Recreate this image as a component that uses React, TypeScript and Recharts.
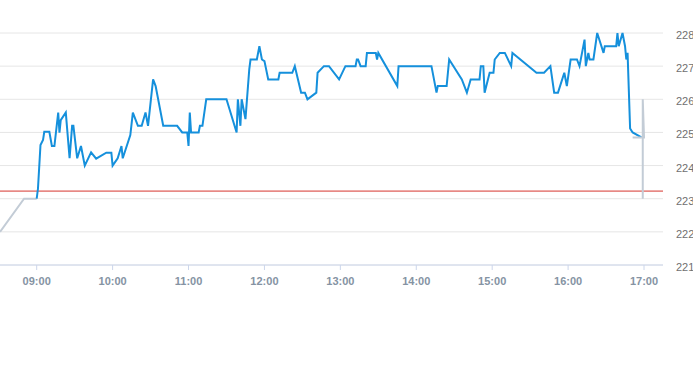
import { LineChart, Line, XAxis, YAxis, CartesianGrid, ReferenceLine } from "recharts";

const sessionTimes = [
  "09:00", "09:01", "09:03", "09:05", "09:06", "09:10", "09:12", "09:14", "09:17", "09:18",
  "09:19", "09:23", "09:26", "09:28", "09:29", "09:32", "09:35", "09:38", "09:43", "09:47",
  "09:55", "09:59", "10:00", "10:04", "10:07", "10:08", "10:14", "10:16", "10:20", "10:23",
  "10:26", "10:28", "10:32", "10:34", "10:40", "10:51", "10:55", "10:59", "11:00", "11:01",
  "11:02", "11:08", "11:09", "11:11", "11:14", "11:30", "11:38", "11:39", "11:41", "11:42",
  "11:45", "11:48", "11:49", "11:54", "11:56", "11:58", "12:00", "12:03", "12:11", "12:12",
  "12:22", "12:24", "12:29", "12:32", "12:34", "12:41", "12:42", "12:47", "12:51", "12:59",
  "13:04", "13:12", "13:13", "13:14", "13:16", "13:20", "13:21", "13:28", "13:29", "13:30",
  "13:45", "13:46", "14:12", "14:16", "14:17", "14:24", "14:26", "14:36", "14:40", "14:43",
  "14:50", "14:51", "14:53", "14:54", "14:58", "15:01", "15:02", "15:06", "15:10", "15:15",
  "15:16", "15:35", "15:41", "15:46", "15:49", "15:52", "15:57", "15:59", "16:02", "16:07",
  "16:09", "16:13", "16:14", "16:16", "16:17", "16:20", "16:23", "16:28", "16:29", "16:38",
  "16:39", "16:40", "16:43", "16:45", "16:46", "16:47", "16:49", "16:51", "16:58",
];
const sessionPrices = [
  223.0, 223.3, 224.62, 224.77, 225.02, 225.02, 224.59, 224.59, 225.6, 224.99,
  225.37, 225.6, 224.22, 225.2, 225.2, 224.22, 224.59, 224.0, 224.4, 224.21,
  224.39, 224.39, 224.0, 224.22, 224.59, 224.22, 224.92, 225.6, 225.2, 225.2,
  225.6, 225.2, 226.6, 226.4, 225.2, 225.2, 225.0, 225.0, 224.59, 225.6,
  225.0, 225.0, 225.2, 225.2, 226.0, 226.0, 225.0, 226.0, 225.2, 226.0,
  225.4, 226.9, 227.2, 227.2, 227.6, 227.2, 227.15, 226.6, 226.6, 226.8,
  226.8, 227.0, 226.2, 226.2, 226.0, 226.2, 226.8, 227.0, 227.0, 226.6,
  227.0, 227.0, 227.2, 227.2, 227.0, 227.0, 227.4, 227.4, 227.2, 227.4,
  226.4, 227.0, 227.0, 226.2, 226.4, 226.4, 227.2, 226.6, 226.2, 226.6,
  226.6, 227.0, 227.0, 226.2, 226.8, 226.8, 227.2, 227.4, 227.4, 227.0,
  227.4, 226.8, 226.8, 227.0, 226.2, 226.2, 226.8, 226.4, 227.2, 227.2,
  227.0, 227.8, 227.0, 227.4, 227.2, 227.2, 228.0, 227.4, 227.6, 227.6,
  228.0, 227.6, 228.0, 227.6, 227.2, 227.4, 225.12, 225.0, 224.85,
];

const preTimes = ["08:31", "08:50", "09:00"];
const prePrices = [222.0, 223.0, 223.0];

const afterTimes = ["16:51", "17:00", "16:59", "16:59"];
const afterPrices = [224.85, 224.85, 226.0, 223.0];

const previousClose = 223.23;
const hourTicks = ["09:00", "10:00", "11:00", "12:00", "13:00", "14:00", "15:00", "16:00", "17:00"];
const priceTicks = [221, 222, 223, 224, 225, 226, 227, 228];

const toMin = (s: string) => {
  const [h, m] = s.split(":").map(Number);
  return h * 60 + m;
};
const toLabel = (v: number) => {
  const h = Math.floor(v / 60);
  const m = v % 60;
  return `${String(h).padStart(2, "0")}:${String(m).padStart(2, "0")}`;
};
const build = (times: string[], prices: number[]) => times.map((t, i) => ({ t: toMin(t), price: prices[i] }));

const sessionData = build(sessionTimes, sessionPrices);
const preData = build(preTimes, prePrices);
const afterData = build(afterTimes, afterPrices);

const XTick = ({ x, y, payload }: any) => (
  <text x={x} y={y + 13} textAnchor="middle" fill="#8593a3" fontSize={11} fontWeight="bold" fontFamily="'Liberation Sans', Arial, sans-serif">
    {toLabel(payload.value)}
  </text>
);

const YTick = ({ y, payload }: any) => (
  <text x={676} y={y + 6} textAnchor="start" fill="#707070" fontSize={11} fontFamily="'Liberation Sans', Arial, sans-serif">
    {payload.value}
  </text>
);

export default function App() {
  return (
    <div style={{ position: "absolute", left: 0, top: 0, width: 693, height: 365, overflow: "hidden", background: "#fff" }}>
      <LineChart width={693} height={365} margin={{ top: 33, right: 0, bottom: 70, left: 0 }}>
        <CartesianGrid vertical={false} stroke="#e6e6e6" />
        <XAxis
          dataKey="t"
          type="number"
          domain={[511, 1035]}
          ticks={hourTicks.map(toMin)}
          tick={<XTick />}
          tickSize={5}
          stroke="#ccd6eb"
        />
        <YAxis
          orientation="right"
          width={30}
          domain={[221, 228]}
          ticks={priceTicks}
          axisLine={false}
          tickLine={false}
          tick={<YTick />}
        />
        <ReferenceLine y={previousClose} stroke="#d6352e" strokeWidth={1} />
        <Line data={preData} dataKey="price" stroke="#c3ccd6" strokeWidth={2} dot={false} type="linear" isAnimationActive={false} />
        <Line data={sessionData} dataKey="price" stroke="#1590dc" strokeWidth={2} dot={false} type="linear" isAnimationActive={false} />
        <Line data={afterData} dataKey="price" stroke="#c3ccd6" strokeWidth={2} dot={false} type="linear" isAnimationActive={false} />
      </LineChart>
    </div>
  );
}
